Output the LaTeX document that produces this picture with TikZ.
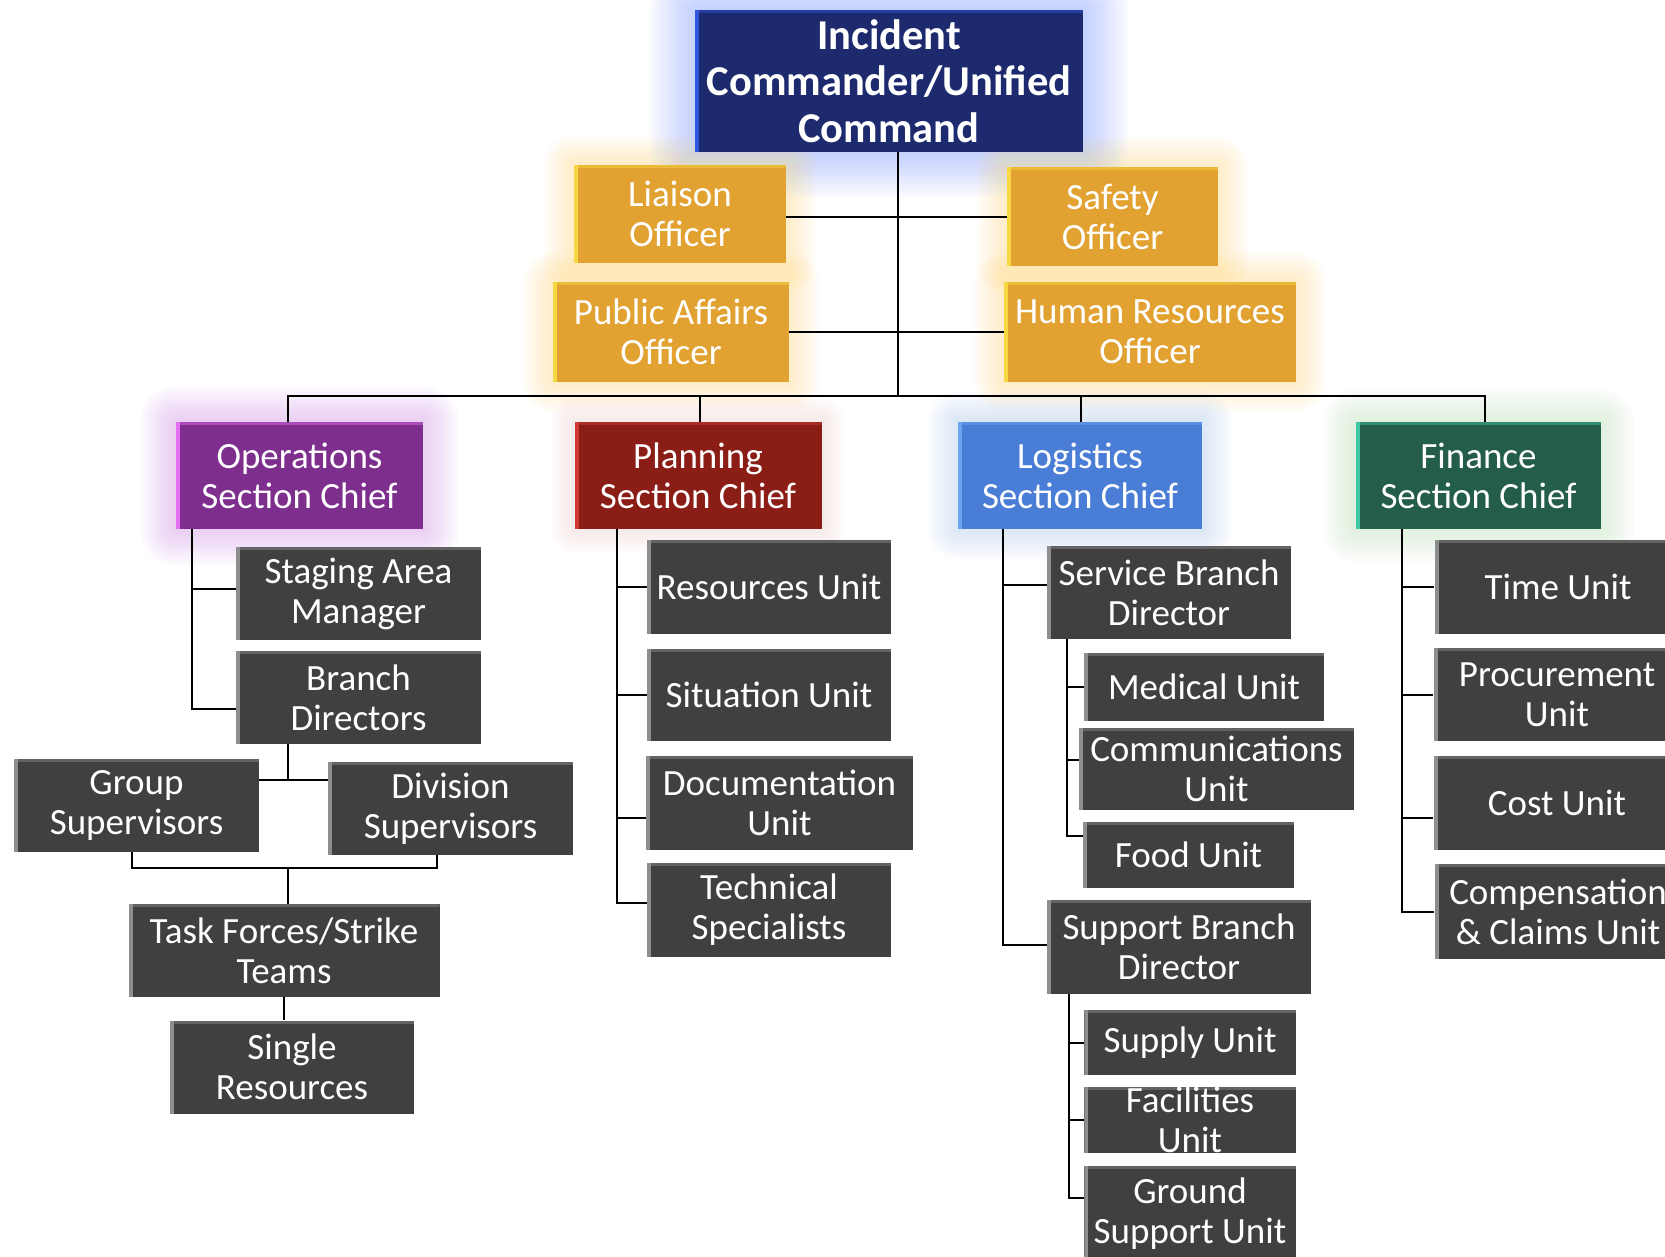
\documentclass[tikz,border=0pt]{standalone}
\usepackage{fontspec}
\setmainfont{Carlito}
\usetikzlibrary{backgrounds}
\definecolor{icfill}{HTML}{1E2A6E}\definecolor{icedge}{HTML}{2E56E0}
\definecolor{offfill}{HTML}{E2A232}\definecolor{offedge}{HTML}{F7D842}
\definecolor{opsfill}{HTML}{7E2F8E}\definecolor{opsedge}{HTML}{E46FF0}
\definecolor{planfill}{HTML}{8A1E16}\definecolor{planedge}{HTML}{D03A30}
\definecolor{logfill}{HTML}{4A7ED6}\definecolor{logedge}{HTML}{6FA3F0}
\definecolor{finfill}{HTML}{255D4B}\definecolor{finedge}{HTML}{3FC9A2}
\definecolor{grayfill}{HTML}{404040}\definecolor{grayedge}{HTML}{8E8E8E}
\definecolor{icglow}{HTML}{8FAAFF}\definecolor{offglow}{HTML}{FFD870}
\definecolor{opsglow}{HTML}{D890EE}\definecolor{planglow}{HTML}{F4C0C0}
\definecolor{logglow}{HTML}{A0C4F4}\definecolor{finglow}{HTML}{B8E0B0}
\tikzset{
  cbox/.style 2 args={fill=#1, text=white, inner sep=0pt, align=center,
    font=\fontsize{37}{40}\selectfont,
    path picture={
      \fill[#2!45!#1] (path picture bounding box.north west) rectangle ([yshift=-3pt]path picture bounding box.north east);
      \fill[#2] (path picture bounding box.south west) rectangle ([xshift=4pt]path picture bounding box.north west);
    }},
  gbox/.style={cbox={grayfill}{grayedge}},
  conn/.style={draw=black, line width=2pt}
}
\begin{document}
\begin{tikzpicture}[x=1pt,y=-1pt]
\useasboundingbox (0,0) rectangle (1665,1257);
\begin{scope}
\clip (0,0) rectangle (1665,1257);
% top
\node[cbox={icfill}{icedge}, minimum width=388pt, minimum height=142pt,
  font=\bfseries\fontsize{42.5}{46.5}\selectfont] (ic) at (889,81) {Incident\\Commander/Unified\\Command};
\node[cbox={offfill}{offedge}, minimum width=212pt, minimum height=98pt] (liaison) at (680,214) {Liaison\\Officer};
\node[cbox={offfill}{offedge}, minimum width=211pt, minimum height=99pt] (safety) at (1112.5,216.5) {Safety\\Officer};
\node[cbox={offfill}{offedge}, minimum width=236pt, minimum height=100pt] (pao) at (671,332) {Public Affairs\\Officer};
\node[cbox={offfill}{offedge}, minimum width=292pt, minimum height=100pt] (hro) at (1150,332) {Human Resources\\Officer};
% sections
\node[cbox={opsfill}{opsedge}, minimum width=247pt, minimum height=107pt] (ops) at (299.5,475.5) {Operations\\Section Chief};
\node[cbox={planfill}{planedge}, minimum width=247pt, minimum height=107pt] (plan) at (698,475.5) {Planning\\Section Chief};
\node[cbox={logfill}{logedge}, minimum width=244pt, minimum height=107pt] (log) at (1080,475.5) {Logistics\\Section Chief};
\node[cbox={finfill}{finedge}, minimum width=245pt, minimum height=107pt] (fin) at (1478.5,475.5) {Finance\\Section Chief};
% operations
\node[gbox, minimum width=245pt, minimum height=93pt] (stage) at (358.5,593.5) {Staging Area\\Manager};
\node[gbox, minimum width=245pt, minimum height=93pt] (branch) at (358.5,697.5) {Branch\\Directors};
\node[gbox, minimum width=245pt, minimum height=93pt] (group) at (136.5,805.5) {Group\\Supervisors};
\node[gbox, minimum width=245pt, minimum height=93pt] (division) at (450.5,808.5) {Division\\Supervisors};
\node[gbox, minimum width=311pt, minimum height=93pt] (task) at (284,950.5) {Task Forces/Strike\\Teams};
\node[gbox, minimum width=244pt, minimum height=93pt] (single) at (292,1067) {Single\\Resources};
% planning
\node[gbox, minimum width=244pt, minimum height=93.5pt] (res) at (769,587) {Resources Unit};
\node[gbox, minimum width=244pt, minimum height=92pt] (sit) at (769,695) {Situation Unit};
\node[gbox, minimum width=267pt, minimum height=93.5pt] (doc) at (779.5,803) {Documentation\\Unit};
\node[gbox, minimum width=244pt, minimum height=94pt] (tech) at (769,910) {Technical\\Specialists};
% logistics
\node[gbox, minimum width=244pt, minimum height=93pt] (svc) at (1169,592.5) {Service Branch\\Director};
\node[gbox, minimum width=240pt, minimum height=68pt] (med) at (1204,687) {Medical Unit};
\node[gbox, minimum width=275pt, minimum height=81.5pt] (comm) at (1216.5,769) {Communications\\Unit};
\node[gbox, minimum width=211pt, minimum height=66pt] (food) at (1188.5,855) {Food Unit};
\node[gbox, minimum width=264.5pt, minimum height=93.5pt] (sup) at (1179,947) {Support Branch\\Director};
\node[gbox, minimum width=211.5pt, minimum height=65pt] (supply) at (1190,1042.5) {Supply Unit};
\node[gbox, minimum width=211.5pt, minimum height=66pt] (fac) at (1190,1120) {Facilities\\Unit};
\node[gbox, minimum width=211.5pt, minimum height=95pt] (gsu) at (1190,1213.5) {Ground\\Support Unit};
% finance
\node[gbox, minimum width=247pt, minimum height=94.5pt] (time) at (1558,587) {Time Unit};
\node[gbox, minimum width=247pt, minimum height=93pt] (proc) at (1557,694.5) {Procurement\\Unit};
\node[gbox, minimum width=247pt, minimum height=93.5pt] (cost) at (1557,803) {Cost Unit};
\node[gbox, minimum width=247pt, minimum height=95pt] (comp) at (1558,911.5) {Compensation\\\& Claims Unit};
% connectors top
\coordinate (spine) at (898,396);
\draw[conn] (ic.south -| spine) -- (spine);
\draw[conn] ([yshift=-3.5pt]liaison.east) -- ([yshift=-3.5pt]liaison.east -| spine);
\draw[conn] ([yshift=-1pt]safety.west) -- ([yshift=-1pt]safety.west -| spine);
\draw[conn] (pao.east) -- (pao.east -| spine);
\draw[conn] (hro.west) -- (hro.west -| spine);
\draw[conn] ([xshift=-11.5pt]ops.north) |- (spine) -| ([xshift=6pt]fin.north);
\draw[conn] ([xshift=2pt]plan.north) -- ([xshift=2pt]plan.north |- spine);
\draw[conn] ([xshift=1pt]log.north) -- ([xshift=1pt]log.north |- spine);
% operations connectors
\coordinate (opst) at ([xshift=16pt]ops.south west);
\draw[conn] (opst) |- ([yshift=-11pt]branch.west);
\draw[conn] ([yshift=5pt]stage.west) -- ([yshift=5pt]stage.west -| opst);
\coordinate (gd) at (288,780);
\draw[conn] (gd |- branch.south) -- (gd);
\draw[conn] (group.east |- gd) -- (division.west |- gd);
\coordinate (gdb) at (288,868);
\draw[conn] ([xshift=-5pt]group.south) |- (gdb) -| ([xshift=-14pt]division.south);
\draw[conn] (gdb) -- (gdb |- task.north);
\draw[conn] (task.south) -- (task.south |- single.north);
% planning connectors
\coordinate (plt) at ([xshift=42.5pt]plan.south west);
\draw[conn] (plt) |- ([yshift=7pt]tech.west);
\draw[conn] (res.west) -- (res.west -| plt);
\draw[conn] (sit.west) -- (sit.west -| plt);
\draw[conn] ([yshift=-15pt]doc.west) -- ([yshift=-15pt]doc.west -| plt);
% logistics connectors
\coordinate (lgt) at ([xshift=45.5pt]log.south west);
\draw[conn] (lgt) |- ([yshift=2pt]sup.west);
\draw[conn] ([yshift=7.5pt]svc.west) -- ([yshift=7.5pt]svc.west -| lgt);
\coordinate (svt) at ([xshift=20pt]svc.south west);
\draw[conn] (svt) |- ([yshift=19pt]food.west);
\draw[conn] (med.west) -- (med.west -| svt);
\draw[conn] ([yshift=9pt]comm.west) -- ([yshift=9pt]comm.west -| svt);
\coordinate (spt) at ([xshift=22pt]sup.south west);
\draw[conn] (spt) |- ([yshift=16pt]gsu.west);
\draw[conn] (supply.west) -- (supply.west -| spt);
\draw[conn] (fac.west) -- (fac.west -| spt);
% finance connectors
\coordinate (fnt) at ([xshift=45.7pt]fin.south west);
\draw[conn] (fnt) |- (comp.west);
\draw[conn] (time.west) -- (time.west -| fnt);
\draw[conn] (proc.west) -- (proc.west -| fnt);
\draw[conn] ([yshift=-15pt]cost.west) -- ([yshift=-15pt]cost.west -| fnt);
\end{scope}
% background and glows
\begin{scope}[on background layer]
\clip (0,0) rectangle (1665,1257);
\fill[white] (0,0) rectangle (1665,1257);
\foreach \n/\c/\m in {ic/icglow/45, liaison/offglow/30, safety/offglow/30, pao/offglow/30, hro/offglow/30, ops/opsglow/36, plan/planglow/24, log/logglow/30, fin/finglow/33}{
  \foreach \r in {3,6,...,\m}{
    \fill[\c, opacity=0.04, rounded corners=\r pt] ([xshift=-\r pt, yshift=-\r pt]\n.south west) rectangle ([xshift=\r pt, yshift=\r pt]\n.north east);
  }
}
\end{scope}
\end{tikzpicture}
\end{document}
